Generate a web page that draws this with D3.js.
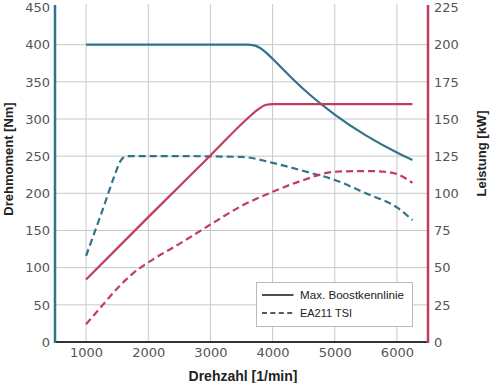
<!DOCTYPE html>
<html>
<head>
<meta charset="utf-8">
<script src="https://cdn.jsdelivr.net/npm/d3@7"></script>
<style>
  body { margin: 0; background: #fff; }
  svg { display: block; }
</style>
</head>
<body>
<svg id="chart" width="500" height="383"></svg>
<script>
const boostTorqueRpm = [1000, 2000, 3000, 3600, 3700, 3800, 3900, 4000, 4250, 4500, 5000, 5500, 6000, 6250];
const boostTorque    = [400, 400, 400, 400, 399, 395.5, 389, 381, 360, 340, 306, 278, 255, 245];

const boostPowerRpm  = [1000, 2000, 3000, 3600, 3750, 3900, 4000, 5000, 6000, 6250];
const boostPower     = [42, 84, 125.5, 150.5, 156, 159.6, 160, 160, 160, 160];

const tsiTorqueRpm   = [1000, 1250, 1450, 1550, 1650, 2500, 3500, 4000, 4500, 5000, 5500, 6000, 6250];
const tsiTorque      = [116, 174, 222, 243, 250, 250, 249, 241, 230, 218, 200, 181, 164];

const tsiPowerRpm    = [1000, 1250, 1500, 1750, 2000, 2500, 3000, 3500, 4000, 4500, 5000, 5500, 5800, 6000, 6250];
const tsiPower       = [12, 24, 36, 46, 53.5, 66, 79, 91.5, 101, 109, 114.5, 115, 114.5, 113, 107];

const xTicks = [1000, 2000, 3000, 4000, 5000, 6000];
const torqueTicks = [0, 50, 100, 150, 200, 250, 300, 350, 400, 450];
const powerTicks = [0, 25, 50, 75, 100, 125, 150, 175, 200, 225];

const legendItems = [
  { label: 'Max. Boostkennlinie', dash: null, width: 104 },
  { label: 'EA211 TSI', dash: '5,3.4', width: 52 }
];

const teal = '#2f7589';
const red = '#c23c5e';

const svg = d3.select('#chart');

const x = d3.scaleLinear().domain([500, 6500]).range([55, 428]);
const yT = d3.scaleLinear().domain([0, 450]).range([342, 7.5]);
const yP = d3.scaleLinear().domain([0, 225]).range([342, 7.5]);

// Gitter
const grid = svg.append('g');
grid.selectAll('line.v')
  .data(xTicks)
  .enter().append('line')
  .attr('x1', d => x(d)).attr('x2', d => x(d))
  .attr('y1', 4).attr('y2', 342)
  .attr('stroke', '#c8c8c8').attr('stroke-width', 1);
grid.selectAll('line.h')
  .data(torqueTicks.filter(d => d > 0 && d < 450))
  .enter().append('line')
  .attr('x1', 55).attr('x2', 428)
  .attr('y1', d => yT(d)).attr('y2', d => yT(d))
  .attr('stroke', '#c8c8c8').attr('stroke-width', 1);

// Achsen
const tickFont = g => g.selectAll('text')
  .attr('font-family', 'DejaVu Sans, sans-serif')
  .attr('font-size', 13)
  .attr('fill', '#555');

svg.append('g')
  .attr('transform', 'translate(55,0)')
  .call(d3.axisLeft(yT).tickValues(torqueTicks).tickSize(0).tickPadding(5).tickFormat(d3.format('d')))
  .call(g => g.select('.domain').remove())
  .call(tickFont);

svg.append('g')
  .attr('transform', 'translate(428,0)')
  .call(d3.axisRight(yP).tickValues(powerTicks).tickSize(0).tickPadding(6).tickFormat(d3.format('d')))
  .call(g => g.select('.domain').remove())
  .call(tickFont);

svg.append('g')
  .attr('transform', 'translate(0,342)')
  .call(d3.axisBottom(x).tickValues(xTicks).tickSize(0).tickPadding(6).tickFormat(d3.format('d')))
  .call(g => g.select('.domain').remove())
  .call(tickFont);

svg.append('line')
  .attr('x1', 54).attr('x2', 429).attr('y1', 342).attr('y2', 342)
  .attr('stroke', '#333').attr('stroke-width', 2);
svg.append('line')
  .attr('x1', 55).attr('x2', 55).attr('y1', 5).attr('y2', 343)
  .attr('stroke', teal).attr('stroke-width', 2.5);
svg.append('line')
  .attr('x1', 428).attr('x2', 428).attr('y1', 5).attr('y2', 343)
  .attr('stroke', red).attr('stroke-width', 2.5);

// Kurven
const drawCurve = (xs, ys, yScale, color, dash) => {
  const line = d3.line()
    .x((d, i) => x(xs[i]))
    .y(d => yScale(d))
    .curve(d3.curveMonotoneX);
  svg.append('path')
    .datum(ys)
    .attr('d', line)
    .attr('fill', 'none')
    .attr('stroke', color)
    .attr('stroke-width', 2.2)
    .attr('stroke-dasharray', dash);
};

drawCurve(tsiTorqueRpm, tsiTorque, yT, teal, '7,4');
drawCurve(tsiPowerRpm, tsiPower, yP, red, '7,4');
drawCurve(boostTorqueRpm, boostTorque, yT, teal, null);
drawCurve(boostPowerRpm, boostPower, yP, red, null);

// Achsentitel
const titleFont = sel => sel
  .attr('font-family', 'Liberation Sans, Arial, sans-serif')
  .attr('font-weight', 'bold')
  .attr('font-size', 13)
  .attr('fill', '#222');

svg.append('text')
  .attr('transform', 'translate(12.5,159) rotate(-90)')
  .attr('text-anchor', 'middle')
  .text('Drehmoment [Nm]')
  .call(titleFont);

svg.append('text')
  .attr('transform', 'translate(486,153.5) rotate(-90)')
  .attr('text-anchor', 'middle')
  .text('Leistung [kW]')
  .call(titleFont);

svg.append('text')
  .attr('x', 243).attr('y', 380.5)
  .attr('text-anchor', 'middle')
  .text('Drehzahl [1/min]')
  .call(titleFont)
  .attr('font-size', 14);

// Legende
const legend = svg.append('g');
legend.append('rect')
  .attr('x', 256.5).attr('y', 282.5)
  .attr('width', 156).attr('height', 44)
  .attr('fill', '#fff')
  .attr('stroke', '#bbb').attr('stroke-width', 1);

const rows = legend.selectAll('g.row')
  .data(legendItems)
  .enter().append('g')
  .attr('transform', (d, i) => `translate(0,${295 + i * 18})`);

rows.append('line')
  .attr('x1', 262).attr('x2', 293.5)
  .attr('stroke', '#222').attr('stroke-width', 1.6)
  .attr('stroke-dasharray', d => d.dash);

rows.append('text')
  .attr('x', 300).attr('y', 4)
  .attr('font-family', 'Liberation Sans, Arial, sans-serif')
  .attr('font-size', 11)
  .attr('fill', '#222')
  .attr('textLength', d => d.width)
  .attr('lengthAdjust', 'spacingAndGlyphs')
  .text(d => d.label);
</script>
</body>
</html>
